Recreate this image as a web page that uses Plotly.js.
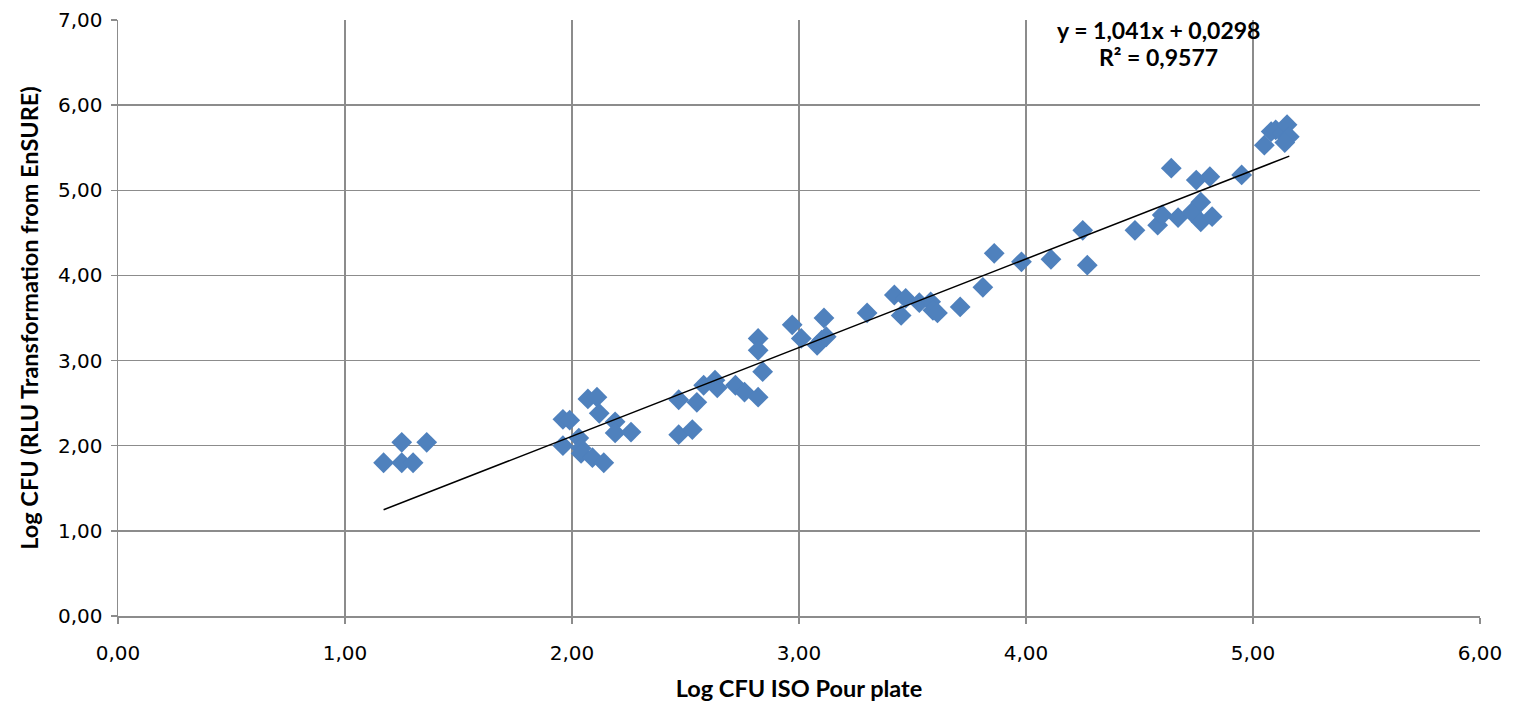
<!DOCTYPE html>
<html>
<head>
<meta charset="utf-8">
<script src="https://cdn.plot.ly/plotly-3.0.1.min.js"></script>
<style>
html,body{margin:0;padding:0;background:#fff;}
#chart{width:1515px;height:704px;}
</style>
</head>
<body>
<div id="chart"></div>
<script>
// Log CFU ISO Pour plate (x) vs Log CFU from EnSURE RLU (y)
const xVals = [1.17,1.25,1.25,1.30,1.36,
  1.96,1.99,2.07,2.11,2.12,2.19,2.19,2.26,1.96,2.03,2.04,2.04,2.09,2.14,
  2.47,2.55,2.58,2.63,2.64,2.72,2.76,2.82,2.82,2.82,2.84,2.47,2.53,
  2.97,3.01,3.08,3.10,3.12,3.11,3.30,3.42,3.47,3.45,3.53,3.58,3.59,3.61,3.71,3.81,
  3.86,3.98,4.11,4.25,4.27,
  4.48,4.58,4.60,4.67,4.73,4.77,4.77,4.82,4.75,4.81,4.95,4.64,
  5.05,5.08,5.10,5.13,5.15,5.16,5.14];
const yVals = [1.80,2.04,1.80,1.80,2.04,
  2.31,2.30,2.55,2.57,2.38,2.28,2.15,2.16,2.00,2.09,1.97,1.91,1.86,1.80,
  2.54,2.51,2.71,2.77,2.68,2.71,2.63,2.57,3.26,3.12,2.87,2.13,2.19,
  3.42,3.26,3.18,3.24,3.28,3.50,3.56,3.77,3.73,3.53,3.68,3.69,3.59,3.56,3.63,3.86,
  4.26,4.16,4.19,4.53,4.12,
  4.53,4.59,4.71,4.68,4.74,4.63,4.86,4.69,5.12,5.16,5.18,5.26,
  5.53,5.69,5.71,5.67,5.77,5.63,5.56];
const fitSlope = 1.041;
const fitIntercept = 0.0298;
const eqText = "y = 1,041x + 0,0298";
const r2Text = "R² = 0,9577";
const xTickVals = [0,1,2,3,4,5,6];
const yTickVals = [0,1,2,3,4,5,6,7];

const xMin = Math.min(...xVals), xMax = Math.max(...xVals);
const trendX = [xMin, xMax];
const trendY = trendX.map(v => fitSlope * v + fitIntercept);

const data = [
  {
    x: xVals, y: yVals, type: 'scatter', mode: 'markers',
    marker: {symbol: 'diamond', size: 16, color: '#4F81BD', line: {width: 0}},
    hoverinfo: 'x+y', showlegend: false
  },
  {
    x: trendX, y: trendY, type: 'scatter', mode: 'lines',
    line: {color: '#000000', width: 1.5}, showlegend: false
  }
];

const gridColor = '#8c8c8c';
const tickFont = {family: 'DejaVu Sans, Verdana, sans-serif', size: 20, color: '#000'};
const titleFont = {family: 'Lato, Calibri, sans-serif', size: 23.5, weight: 'bold', color: '#000'};
const layout = {
  width: 1515, height: 704,
  margin: {l: 118, r: 35, t: 20, b: 88},
  paper_bgcolor: '#ffffff', plot_bgcolor: '#ffffff',
  separators: ', ',
  showlegend: false,
  font: tickFont,
  xaxis: {
    range: [0, 6], tickvals: xTickVals, tickformat: '.2f',
    showgrid: true, gridcolor: gridColor, gridwidth: 1.5,
    showline: true, linecolor: gridColor, linewidth: 1.5,
    ticks: 'outside', ticklen: 6, tickcolor: gridColor, tickwidth: 1.5,
    ticklabelstandoff: 12,
    zeroline: false, automargin: false,
    tickfont: tickFont,
    title: {text: 'Log CFU ISO Pour plate', standoff: 17, font: titleFont}
  },
  yaxis: {
    range: [0, 7], tickvals: yTickVals, tickformat: '.2f',
    showgrid: true, gridcolor: gridColor, gridwidth: 1.5,
    showline: true, linecolor: gridColor, linewidth: 1.5,
    ticks: 'outside', ticklen: 6, tickcolor: gridColor, tickwidth: 1.5,
    ticklabelstandoff: 4,
    zeroline: false, automargin: false,
    tickfont: tickFont,
    title: {text: 'Log CFU (RLU Transformation from EnSURE)', standoff: 12, font: titleFont}
  },
  annotations: [
    {xref: 'paper', yref: 'paper', x: (1158-118)/1362, y: (616-30)/596,
     text: '<b>' + eqText + '</b>', showarrow: false, xanchor: 'center', yanchor: 'middle',
     font: {family: 'Lato, Calibri, sans-serif', size: 23, color: '#000'}},
    {xref: 'paper', yref: 'paper', x: (1158-118)/1362, y: (616-57)/596,
     text: '<b>' + r2Text + '</b>', showarrow: false, xanchor: 'center', yanchor: 'middle',
     font: {family: 'Lato, Calibri, sans-serif', size: 23, color: '#000'}}
  ]
};

Plotly.newPlot('chart', data, layout, {displayModeBar: false, staticPlot: true});
</script>
</body>
</html>
